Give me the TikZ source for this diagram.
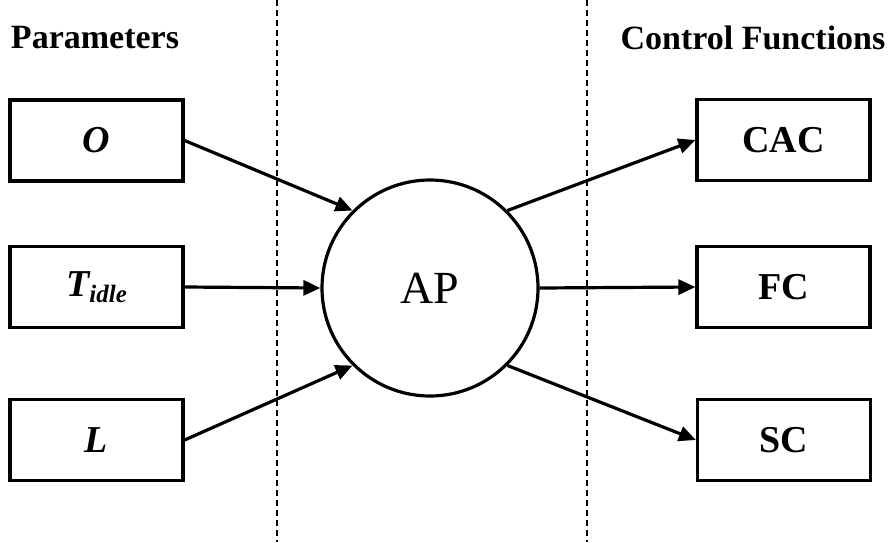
\documentclass[tikz,border=0pt]{standalone}
\usepackage{fontspec}
\setmainfont{Liberation Serif}
\usetikzlibrary{arrows.meta}
\begin{document}
\begin{tikzpicture}[x=1pt,y=-1pt,
  box/.style={draw,line width=3.2pt,minimum width=173pt,minimum height=81pt,inner sep=0pt,font=\fontsize{38}{42}\selectfont\bfseries},
  hub/.style={draw,circle,line width=3.2pt,minimum size=216pt,inner sep=0pt,font=\fontsize{46}{50}\selectfont},
  head/.style={font=\fontsize{34}{38}\selectfont\bfseries},
  divider/.style={line width=2.2pt,dash pattern=on 6pt off 4pt},
  link/.style={line width=3.2pt,-{Triangle[length=17pt,width=15pt]}}]
\useasboundingbox (0,0) rectangle (893,542);
% section dividers
\draw[divider] (277,0) -- (277,542);
\draw[divider] (587,0) -- (587,542);
% headings
\node[head] (hpar) at (95,38) {Parameters};
\node[head] (hcf) at (753,38) {Control Functions};
% parameter boxes
\node[box] (o) at (96.5,140.5) {\itshape O};
\node[box] (t) at (96.5,287) {\itshape T\raisebox{-0.35ex}{\fontsize{25}{27}\selectfont idle}};
\node[box] (l) at (96.5,440) {\itshape L};
% central node
\node[hub] (ap) at (430,288) {AP};
% control function boxes
\node[box] (cac) at (783.5,140) {CAC};
\node[box] (fc) at (783.5,287) {FC};
\node[box] (sc) at (784,440) {SC};
% connectors
\draw[link] (o.east) -- (ap.135);
\draw[link] (t.east) -- (ap.west);
\draw[link] (l.east) -- (ap.-135);
\draw[link] (ap.45) -- (cac.west);
\draw[link] (ap.east) -- (fc.west);
\draw[link] (ap.-45) -- (sc.west);
\end{tikzpicture}
\end{document}
